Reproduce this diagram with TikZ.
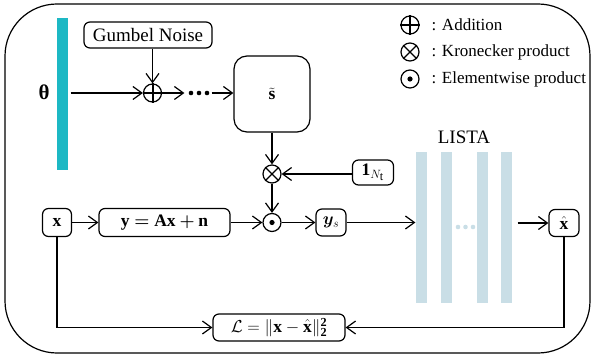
\documentclass[tikz,border=0pt]{standalone}
\usepackage{amsmath,bm}
\usepackage{fontspec}
\setmainfont{Liberation Serif}
\usetikzlibrary{arrows.meta}
\definecolor{barteal}{HTML}{1DB8C4}
\definecolor{listabar}{HTML}{C9DEE6}
\begin{document}
\begin{tikzpicture}[x=1pt,y=-1pt,
  line width=1.2pt,
  arr/.style={-{Straight Barb[length=9pt,width=13pt,line width=1.2pt]}},
  rbox/.style={draw,rounded corners=6pt,inner sep=0pt,font=\fontsize{17.5}{20}\selectfont},
  opc/.style={draw,circle,inner sep=0pt,minimum size=18pt},
  legc/.style={draw,circle,inner sep=0pt,minimum size=18pt},
  legt/.style={anchor=west,inner sep=0pt,font=\fontsize{17}{20}\selectfont},
  lbar/.style={fill=listabar,inner sep=0pt,minimum width=11pt,minimum height=151pt}]
\useasboundingbox (0,0) rectangle (593,358);
\draw[rounded corners=52pt] (5,4) rectangle (590,353);

% theta and bar
\node[fill=barteal,inner sep=0pt,minimum width=11pt,minimum height=152pt] (bar) at (62.5,94) {};
\node (theta) at (44,92) {\fontsize{21}{24}\selectfont\bfseries θ};

% gumbel and plus
\node[rbox,minimum width=128pt,minimum height=26pt] (gum) at (148,35) {\fontsize{19}{22}\selectfont Gumbel Noise};
\node[opc] (plus) at (152.5,93) {};
\draw[line width=2pt] (plus.north) -- (plus.south) (plus.west) -- (plus.east);
\draw[arr] ([xshift=2pt]bar.east |- plus) -- (plus.west);
\draw[arr] (gum.south -| plus) -- (plus.north);

% dots
\node[inner sep=0pt,minimum width=26pt,minimum height=8pt] (dots) at (198,93) {};
\foreach \xx in {191,199,207} \fill (\xx,93) circle (2.3pt);
\draw[arr] (plus.east) -- (dots.west);

% s tilde
\node[rbox,rounded corners=13pt,minimum width=76pt,minimum height=76pt] (st) at (272,94) {$\tilde{\mathbf{s}}$};
\draw[arr] (dots.east) -- (st.west |- dots);

% otimes
\node[opc] (ot) at (272,174) {};
\draw (ot.north east) -- (ot.south west) (ot.north west) -- (ot.south east);
\draw[arr] (st.south) -- (ot.north);
\node[rbox,minimum width=41pt,minimum height=25pt] (one) at (373,172.5) {$\mathbf{1}_{N_{\scriptstyle\mathrm{t}}}$};
\draw[arr] (one.west |- ot) -- (ot.east);

% odot
\node[opc] (od) at (272,222.5) {};
\fill (od.center) circle (2.6pt);
\draw[arr] (ot.south) -- (od.north);

% bottom row
\node[rbox,minimum width=29pt,minimum height=28pt] (xin) at (57,222.5) {$\mathbf{x}$};
\node[rbox,minimum width=131pt,minimum height=28pt] (ybox) at (164.5,222.5) {$\mathbf{y}\bm{=}\mathbf{Ax}\bm{+}\mathbf{n}$};
\node[rbox,minimum width=30pt,minimum height=27pt] (ys) at (331,222.5) {$\bm{y}_{s}$};
\draw[arr] (xin.east) -- (ybox.west);
\draw[arr] (ybox.east) -- (od.west);
\draw[arr] (od.east) -- (ys.west);

% LISTA
\node[lbar] (b1) at (421.5,227.5) {};
\node[lbar] (b2) at (446.5,227.5) {};
\node[lbar] (b3) at (482.5,227.5) {};
\node[lbar] (b4) at (506.5,227.5) {};
\foreach \xx in {458,465.5,473} \fill[listabar] (\xx,227) circle (2.3pt);
\node[font=\fontsize{19}{22}\selectfont] (lista) at (464,137) {LISTA};
\draw[arr] (ys.east) -- (b1.west |- ys);

\node[rbox,minimum width=30pt,minimum height=27pt] (xh) at (564,223) {$\hat{\mathbf{x}}$};
\draw[arr] ([xshift=5pt]b4.east |- xh) -- (xh.west);

% loss
\node[rbox,minimum width=132pt,minimum height=27pt] (loss) at (279,327.5) {$\mathcal{L}=\|\mathbf{x}-\hat{\mathbf{x}}\|_{\mathbf{2}}^{\mathbf{2}}$};
\draw[arr] (xin.south) |- (loss.west);
\draw[arr] (xh.south) |- (loss.east);

% legend
\node[legc] (l1) at (410,25) {};
\draw[line width=2pt] (l1.north) -- (l1.south) (l1.west) -- (l1.east);
\node[legc] (l2) at (410,52) {};
\draw (l2.north east) -- (l2.south west) (l2.north west) -- (l2.south east);
\node[legc] (l3) at (410,79) {};
\fill (l3.center) circle (2.6pt);
\node[legt] (t1) at (431,25) {: Addition};
\node[legt] (t2) at (431,52) {: Kronecker product};
\node[legt] (t3) at (431,79) {: Elementwise product};
\end{tikzpicture}
\end{document}
